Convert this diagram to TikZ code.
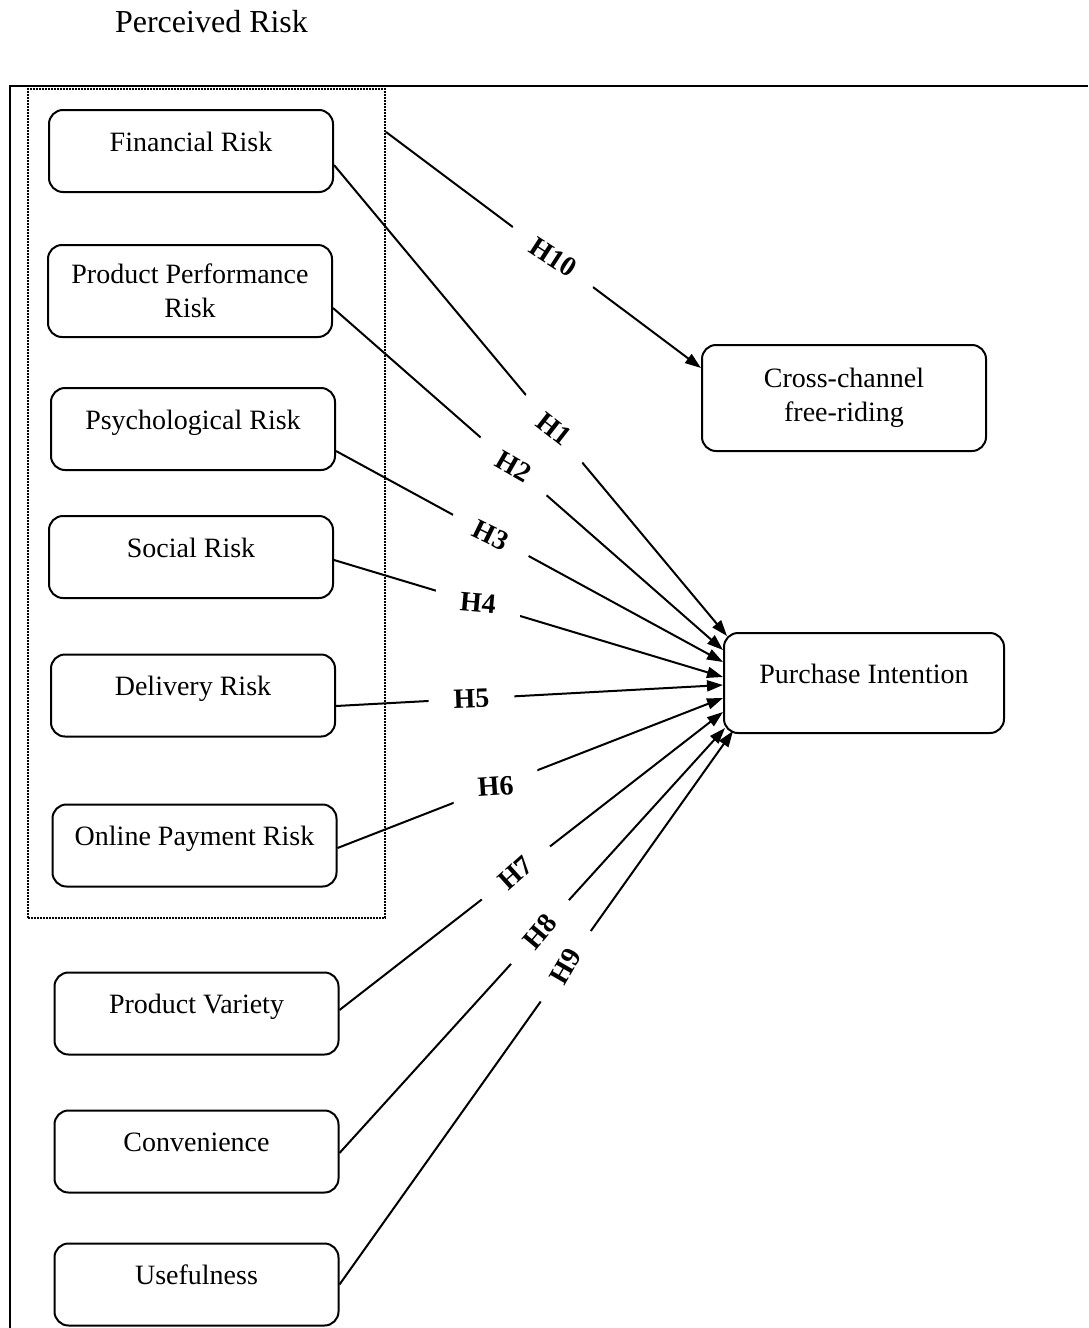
\documentclass[tikz,border=0pt]{standalone}
\usepackage{fontspec}
\setmainfont{Liberation Serif}
\usetikzlibrary{arrows.meta}
\begin{document}
\begin{tikzpicture}[x=1pt,y=-1pt,
  rbox/.style={draw, line width=2pt, rounded corners=14pt, inner sep=0pt,
    minimum width=284pt, minimum height=82pt,
    font=\fontsize{28}{34}\selectfont, align=center},
  one/.style={text height=20pt, text depth=20pt},
  lab/.style={fill=white, font=\fontsize{28}{30}\selectfont\bfseries,
    inner xsep=25pt, inner ysep=7pt},
  arr/.style={line width=2pt, -{Triangle[length=16pt,width=11pt]}},
  frame/.style={line width=2pt},
  group/.style={draw, line width=2pt, dash pattern=on 2pt off 1pt,
    inner sep=0pt, minimum width=357pt, minimum height=829pt}
]
\useasboundingbox (0,0) rectangle (1088,1328);

% outer frame (open to the right and bottom)
\draw[frame] (10,1328) -- (10,86) -- (1088,86);

% title
\node[anchor=base, font=\fontsize{32}{36}\selectfont] (title) at (211.5,32) {Perceived Risk};

% dotted group box
\node[group] (pr) at (206.5,503) {};

% left boxes
\node[rbox, one] (fr)  at (191,151)    {Financial Risk};
\node[rbox, minimum height=92pt] (ppr) at (190,291) {Product Performance\\Risk};
\node[rbox, one] (psy) at (193,429)    {Psychological Risk};
\node[rbox, one] (soc) at (191,557)    {Social Risk};
\node[rbox, one] (del) at (193,695.5)  {Delivery Risk};
\node[rbox, one] (opr) at (194.5,845.5){Online Payment Risk};
\node[rbox, one] (pv)  at (196.5,1013.5){Product Variety};
\node[rbox, one] (con) at (196.5,1151.5){Convenience};
\node[rbox, one] (use) at (196.5,1284.5){Usefulness};

% right boxes
\node[rbox, minimum height=106pt] (cc) at (844,398) {Cross-channel\\free-riding};
\node[rbox, one, minimum width=280pt, minimum height=100pt] (pi) at (864,683) {Purchase Intention};

% connectors
\draw[arr] ([yshift=371pt]pr.east) -- node[lab, pos=0.53, rotate=-33] {H10} ([yshift=30pt]cc.west);
\draw[arr] ([yshift=-14pt]fr.east)  -- node[lab, pos=0.56, rotate=-38] {H1} ([xshift=4pt,yshift=-4pt]pi.north west);
\draw[arr] ([yshift=-17pt]ppr.east) -- node[lab, pos=0.463, rotate=-30] {H2} ([yshift=33pt]pi.west);
\draw[arr] ([yshift=-22pt]psy.east) -- node[lab, pos=0.40, rotate=-26] {H3} ([yshift=21pt]pi.west);
\draw[arr] ([yshift=-3pt]soc.east)  -- node[lab, pos=0.37, rotate=-5] {H4} ([yshift=6pt]pi.west);
\draw[arr] ([yshift=-10.5pt]del.east) -- node[lab, pos=0.35, rotate=2] {H5} ([yshift=-2pt]pi.west);
\draw[arr] ([yshift=-2.5pt]opr.east) -- node[lab, pos=0.41, rotate=4] {H6} ([yshift=-15pt]pi.west);
\draw[arr] ([yshift=3.5pt]pv.east)  -- node[lab, pos=0.46, rotate=42] {H7} ([yshift=-29pt]pi.west);
\draw[arr] ([yshift=-1.5pt]con.east) -- node[lab, pos=0.52, rotate=50] {H8} ([xshift=2pt,yshift=-45pt]pi.west);
\draw[arr] (use.east) -- node[lab, pos=0.575, rotate=60] {H9} ([xshift=10pt,yshift=3pt]pi.south west);
\end{tikzpicture}
\end{document}
